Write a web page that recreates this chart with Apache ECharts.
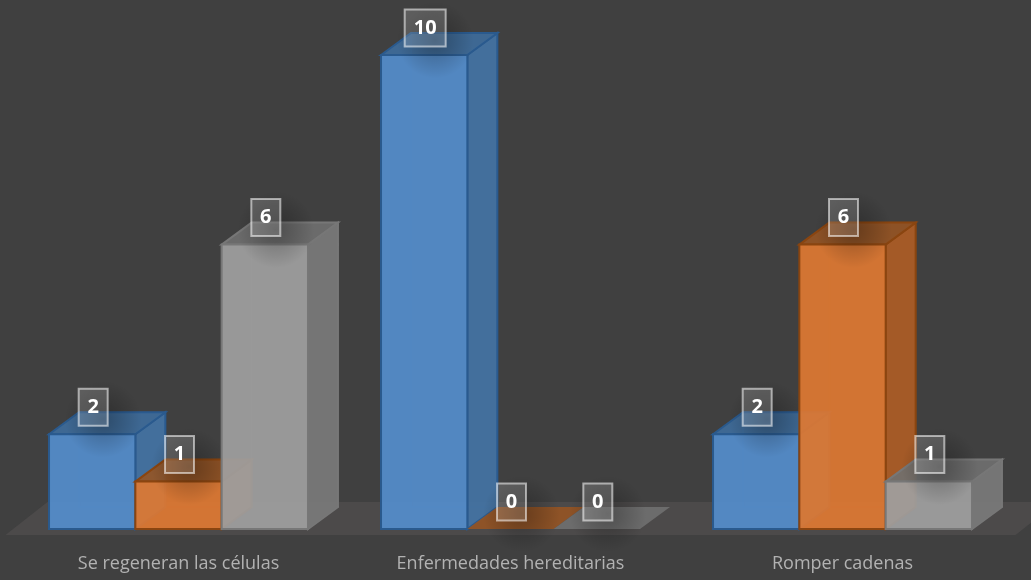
<!DOCTYPE html>
<html>
<head>
<meta charset="utf-8">
<style>
html, body { margin: 0; padding: 0; background: #404040; }
#myChart { width: 1031px; height: 580px; }
</style>
<script src="https://cdn.jsdelivr.net/npm/echarts@6/dist/echarts.min.js"></script>
</head>
<body>
<div id="myChart"></div>
<script>
var categories = ['Se regeneran las células', 'Enfermedades hereditarias', 'Romper cadenas'];
var serie1 = [2, 10, 2];
var serie2 = [1, 0, 6];
var serie3 = [6, 0, 1];

var colors = [
    {front: 'rgba(84,141,204,0.92)', top: 'rgba(62,112,162,0.85)', side: 'rgba(68,116,166,0.9)', line: '#2a5a8e'},
    {front: 'rgba(222,120,50,0.92)', top: 'rgba(150,84,36,0.9)', side: 'rgba(170,92,38,0.95)', line: '#8a4510'},
    {front: 'rgba(160,160,160,0.92)', top: 'rgba(112,112,112,0.9)', side: 'rgba(120,120,120,0.95)', line: '#777777'}
];

var depthX = 30, depthY = 22;

function poly(points, fill, stroke, extra) {
    var el = {
        type: 'polygon',
        shape: {points: points},
        style: {fill: fill, stroke: stroke, lineWidth: 2}
    };
    if (extra) el.z2 = extra;
    return el;
}

function makeBar(idx) {
    return function (params, api) {
        var c = colors[idx];
        var band = api.size([1, 0])[0];
        var w = band * 0.26;
        var top = api.coord([api.value(0), api.value(1)]);
        var base = api.coord([api.value(0), 0]);
        var x0 = base[0] + (idx - 1.5) * w;
        var x1 = x0 + w;
        var yT = top[1], yB = base[1];
        var ch = [];
        if (api.value(1) > 0) {
            ch.push(poly([[x0 + depthX, yT - depthY], [x0 + depthX, yB - depthY], [x1 + depthX, yB - depthY], [x1 + depthX, yT - depthY]], 'rgba(0,0,0,0)', c.line, 0));
            ch[0].style.opacity = 0.2;
            ch.push(poly([[x1, yT], [x1 + depthX, yT - depthY], [x1 + depthX, yB - depthY], [x1, yB]], c.side, c.line));
            ch.push(poly([[x0, yT], [x0 + depthX, yT - depthY], [x1 + depthX, yT - depthY], [x1, yT]], c.top, c.line));
            ch.push(poly([[x0, yT], [x1, yT], [x1, yB], [x0, yB]], c.front, c.line));
        } else {
            var zero = poly([[x0, yT], [x0 + depthX, yT - depthY], [x1 + depthX, yT - depthY], [x1, yT]], c.top, 'none');
            zero.style.lineWidth = 0;
            ch.push(zero);
        }
        // etiqueta
        var cx = (x0 + x1) / 2 + 1;
        var cy = yT - 27;
        var txt = String(api.value(1));
        var bw = txt.length > 1 ? 41 : 29;
        var bh = 37;
        ch.push({
            type: 'rect', z2: 50,
            shape: {x: cx - bw / 2 - 14, y: cy - bh / 2 - 8, width: bw + 48, height: bh + 40},
            style: {
                fill: {
                    type: 'radial', x: 0.5, y: 0.5, r: 0.5,
                    colorStops: [{offset: 0, color: 'rgba(0,0,0,0.28)'}, {offset: 0.5, color: 'rgba(0,0,0,0.14)'}, {offset: 1, color: 'rgba(0,0,0,0)'}]
                }
            }
        });
        ch.push({
            type: 'rect', z2: 60,
            shape: {x: cx - bw / 2, y: cy - bh / 2, width: bw, height: bh},
            style: {fill: 'rgba(255,255,255,0.16)', stroke: 'rgba(255,255,255,0.55)', lineWidth: 2}
        });
        ch.push({
            type: 'text', z2: 70,
            style: {
                x: cx, y: cy, text: txt, align: 'center', verticalAlign: 'middle',
                fill: '#ffffff', font: 'bold 20px "Open Sans"'
            }
        });
        return {type: 'group', children: ch};
    };
}

function floorItem(params, api) {
    var l = api.coord([0, 0]);
    var r = api.coord([2, 0]);
    var band = api.size([1, 0])[0];
    var y = l[1] + 6;
    var xl = l[0] - band / 2 - 7;
    var xr = r[0] + band / 2 + 7;
    return {
        type: 'polygon',
        shape: {points: [[xl, y], [xl + 42, y - 33], [xr + 42, y - 33], [xr, y]]},
        style: {fill: '#4c4a4a'}
    };
}

function barSerie(idx, values) {
    return {
        type: 'custom',
        name: 'Serie' + (idx + 1),
        renderItem: makeBar(idx),
        z: 3 + idx,
        clip: false,
        data: values.map(function (v, i) { return [i, v]; })
    };
}

var myChart = echarts.init(document.getElementById('myChart'), null, {renderer: 'canvas'});
var option = {
    backgroundColor: '#404040',
    animation: false,
    grid: {left: 12.5, width: 996, top: 55, bottom: 51},
    xAxis: {
        type: 'category',
        data: categories,
        axisLine: {show: false},
        axisTick: {show: false},
        axisLabel: {color: '#b2b2b2', fontSize: 18, fontFamily: 'Open Sans', margin: 26}
    },
    yAxis: {type: 'value', min: 0, max: 10, show: false, splitLine: {show: false}},
    series: [
        {type: 'custom', renderItem: floorItem, z: 1, clip: false, silent: true, data: [[0, 0]]},
        barSerie(0, serie1),
        barSerie(1, serie2),
        barSerie(2, serie3)
    ]
};
myChart.setOption(option);
</script>
</body>
</html>
